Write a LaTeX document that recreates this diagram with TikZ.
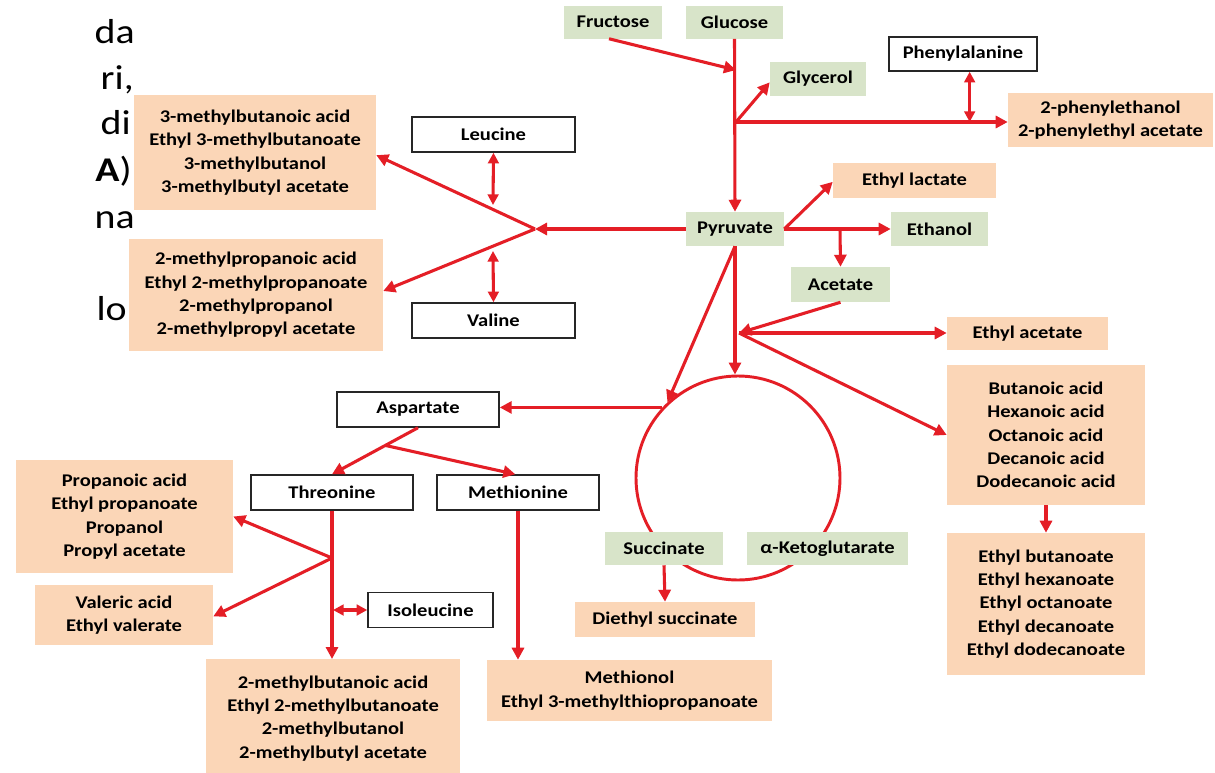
\documentclass[tikz,border=0pt]{standalone}
\usepackage{fontspec}
\setmainfont{Carlito}[FakeStretch=1.15]
\usetikzlibrary{arrows.meta,calc}

\definecolor{pathred}{RGB}{228,30,38}
\definecolor{sugargreen}{RGB}{216,228,201}
\definecolor{aromapeach}{RGB}{251,214,183}

\tikzset{
  sz/.style 2 args={minimum width=#1*0.75pt, minimum height=#2*0.75pt},
  lbl/.style={inner sep=0pt, align=center, font=\fontsize{13.4}{17.5}\selectfont\bfseries, text=black},
  gbox/.style={lbl, fill=sugargreen},
  obox/.style={lbl, fill=aromapeach},
  wbox/.style={lbl, fill=white, draw=black!85, line width=1.1pt},
  flow/.style={draw=pathred, line width=2.3pt, -{Triangle[length=9pt,width=9pt]}},
  flowboth/.style={draw=pathred, line width=2.3pt, {Triangle[length=8pt,width=8pt]}-{Triangle[length=8pt,width=8pt]}},
  slide/.style={inner sep=0pt, anchor=base east, font=\fontsize{26}{30}\selectfont}
}

\begin{document}
\begin{tikzpicture}[x=0.75pt, y=-0.75pt]
\useasboundingbox (0,0) rectangle (1215,772);
\clip (0,0) rectangle (1215,772);
\fill[white] (0,0) rectangle (1215,772);

% TCA cycle (boxes on the cycle are drawn over it)
\node[circle, draw=pathred, line width=2.2pt, minimum size=204*0.75pt, inner sep=0pt] (tca) at (738,478) {};

% sugars and central metabolites
\node[gbox, sz={98}{33}] (fructose) at (613,22) {Fructose};
\node[gbox, sz={97}{33}] (glucose) at (734.5,22) {Glucose};
\node[gbox, sz={96}{34}] (glycerol) at (818,79) {Glycerol};
\node[gbox, sz={98}{34}] (pyruvate) at (735,229) {Pyruvate};
\node[gbox, sz={97}{34}] (ethanol) at (939.5,229) {Ethanol};
\node[gbox, sz={99}{35}] (acetate) at (840.5,284.5) {Acetate};
\node[gbox, sz={118}{33}] (succinate) at (664,548.5) {Succinate};
\node[gbox, sz={161}{33}] (akg) at (827.5,548.5) {α-Ketoglutarate};

% amino acids
\node[wbox, sz={148}{34}] (phe) at (963,54) {Phenylalanine};
\node[wbox, sz={163}{35}] (leucine) at (493.5,134.5) {Leucine};
\node[wbox, sz={163}{35}] (valine) at (493.5,320.5) {Valine};
\node[wbox, sz={162}{35}] (aspartate) at (418,409.5) {Aspartate};
\node[wbox, sz={162}{35}] (threonine) at (332,492.5) {Threonine};
\node[wbox, sz={162}{35}] (methionine) at (518,492.5) {Methionine};
\node[wbox, sz={125}{35}] (isoleucine) at (430.5,610) {Isoleucine};

% aroma compounds
\node[obox, sz={205}{54}] (phenethyl) at (1110.5,120) {2-phenylethanol\\2-phenylethyl acetate};
\node[obox, sz={163}{35}] (ethlactate) at (914.5,180.5) {Ethyl lactate};
\node[obox, sz={242}{115}] (mbut3) at (255,152.5) {3-methylbutanoic acid\\Ethyl 3-methylbutanoate\\3-methylbutanol\\3-methylbutyl acetate};
\node[obox, sz={254}{112}] (mprop2) at (256,295) {2-methylpropanoic acid\\Ethyl 2-methylpropanoate\\2-methylpropanol\\2-methylpropyl acetate};
\node[obox, sz={161}{33}] (ethacetate) at (1027.5,333.5) {Ethyl acetate};
\node[obox, sz={198}{140}] (acids) at (1046,435) {Butanoic acid\\Hexanoic acid\\Octanoic acid\\Decanoic acid\\Dodecanoic acid};
\node[obox, sz={198}{142}] (esters) at (1046,604) {Ethyl butanoate\\Ethyl hexanoate\\Ethyl octanoate\\Ethyl decanoate\\Ethyl dodecanoate};
\node[obox, sz={217}{113}] (propanoic) at (124.5,516.5) {Propanoic acid\\Ethyl propanoate\\Propanol\\Propyl acetate};
\node[obox, sz={178}{60}] (valeric) at (124,615) {Valeric acid\\Ethyl valerate};
\node[obox, sz={180}{35}] (diethyl) at (665,619.5) {Diethyl succinate};
\node[obox, sz={285}{61}] (methionol) at (629.5,690.5) {Methionol\\Ethyl 3-methylthiopropanoate};
\node[obox, sz={254}{118}, anchor=north] (mbut2) at (333,659) {2-methylbutanoic acid\\Ethyl 2-methylbutanoate\\2-methylbutanol\\2-methylbutyl acetate};

% ends of the slide text lines on the left
\node[slide] (s1) at (135,43) {da};
\node[slide] (s2) at (134,89) {ri,};
\node[slide] (s3) at (131,134) {di};
\node[slide] (s4) at (132,181) {\textbf{A})};
\node[slide] (s5) at (135,228) {na};
\node[slide] (s6) at (127,320) {lo};

% junction points
\coordinate (fj) at (736,70);
\coordinate (gj) at (736,122);
\coordinate (bj) at (535,229);
\coordinate (lj) at (493,205);
\coordinate (vj) at (493,251);
\coordinate (aj) at (840,229);
\coordinate (jj) at (739,333);
\coordinate (tj) at (332,558);
\coordinate (ij) at (333,610);

% glycolysis
\draw[flow] (glucose.south) -- (pyruvate.north);
\draw[flow] ([xshift=-3pt]fructose.south) -- (fj);
\draw[flow] (gj) -- ([yshift=-2.5pt]glycerol.west);
\draw[flow] (gj) -- (gj -| phenethyl.west);
\draw[flowboth] ([xshift=5pt]phe.south) -- ([xshift=5pt]phe.south |- gj);

% branched-chain amino acids
\draw[flow] (pyruvate.west) -- (bj);
\draw[flow] (bj) -- ([yshift=-2pt]mbut3.east);
\draw[flow] (bj) -- ([yshift=3pt]mprop2.east);
\draw[flowboth] (leucine.south) -- (lj);
\draw[flowboth] (valine.north) -- (vj);

% fermentation products
\draw[flow] (pyruvate.east) -- ([yshift=-1pt]ethlactate.west);
\draw[flow] (pyruvate.east) -- (ethanol.west);
\draw[flow] (aj) -- (acetate.north);
\draw[flow] (pyruvate.south) -- (pyruvate.south |- tca.north);
\draw[flow] (acetate.south) -- (jj);
\draw[flow] (jj) -- (jj -| ethacetate.west);
\draw[flow] (jj) -- (acids.west);
\draw[flow] (acids.south) -- (esters.north);

% TCA cycle and aspartate family
\draw[flow] (pyruvate.south) -- (tca.133);
\draw[flow] (tca.137) -- (tca.137 -| aspartate.east);
\draw[flow] (succinate.south) -- (diethyl.north);
\draw[flow] (aspartate.south) -- (threonine.north);
\draw[flow] ($(aspartate.south)!0.38!(threonine.north)$) -- ([xshift=-2pt]methionine.north);
\draw[flow] (threonine.south) -- (threonine.south |- mbut2.north);
\draw[flow] (tj) -- (propanoic.east);
\draw[flow] (tj) -- ([yshift=-1pt]valeric.east);
\draw[flowboth] (ij) -- (isoleucine.west);
\draw[flow] (methionine.south) -- (methionine.south |- methionol.north);
\end{tikzpicture}
\end{document}
